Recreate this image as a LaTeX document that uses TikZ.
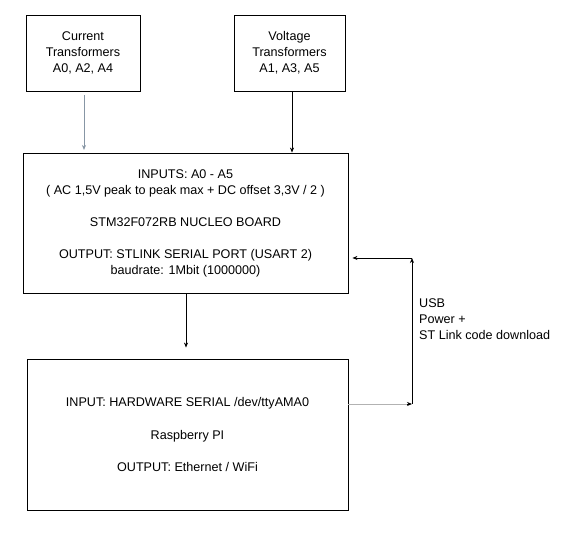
\documentclass[tikz,border=0pt]{standalone}
\usepackage{fontspec}
\setmainfont{Liberation Sans}
\usetikzlibrary{arrows.meta}
\definecolor{lgray}{RGB}{135,150,165}
\begin{document}
\begin{tikzpicture}[x=1pt,y=1pt,
  box/.style={draw,line width=0.8pt,align=center,inner sep=0pt,font=\fontsize{12.6}{16}\selectfont},
  arr/.style={line width=0.8pt,-{Stealth[length=5pt,width=4pt,inset=1.5pt]}},
  lbl/.style={align=left,inner sep=0pt,font=\fontsize{12.6}{16}\selectfont}]
\useasboundingbox (0,0) rectangle (572,534);
\node[box,minimum width=114pt,minimum height=76pt] (cur) at (83,481) {Current\\Transformers\\ A0, A2, A4};
\node[box,minimum width=111pt,minimum height=76pt] (vol) at (289.5,481) {Voltage\\Transformers\\ A1, A3, A5};
\node[box,minimum width=325pt,minimum height=140pt] (nuc) at (185.5,311) {INPUTS: A0 - A5\\( AC 1,5V peak to peak max + DC offset 3,3V / 2 )\\[16pt]STM32F072RB NUCLEO BOARD\\[16pt]OUTPUT: STLINK SERIAL PORT (USART 2)\\baudrate: 1Mbit (1000000)};
\node[box,minimum width=321pt,minimum height=151pt] (rpi) at (187.5,99.5) {INPUT: HARDWARE SERIAL /dev/ttyAMA0\\[16pt]Raspberry PI\\[16pt]OUTPUT: Ethernet / WiFi};
\coordinate (c1) at (412,130);
\coordinate (c2) at (412,276);
\draw[arr,lgray,shorten <=4pt,shorten >=3pt] (cur.south -| 84,0) -- (84,381);
\draw[arr] (vol.south -| 292,0) -- (nuc.north -| 292,0);
\draw[arr,shorten >=11pt] (nuc.south -| 186,0) -- (rpi.north -| 186,0);
\draw[line width=0.8pt,gray!60] (rpi.east |- c1) -- ([xshift=-4pt]c1);
\draw[arr] ([xshift=-5pt]c1) -- (c1);
\draw[arr] (c1) -- (c2);
\draw[arr,shorten >=4pt] (c2) -- (nuc.east |- c2);
\node[lbl,anchor=north west] (usb) at (419,235) {USB\\Power +\\ST Link code download};
\end{tikzpicture}
\end{document}
